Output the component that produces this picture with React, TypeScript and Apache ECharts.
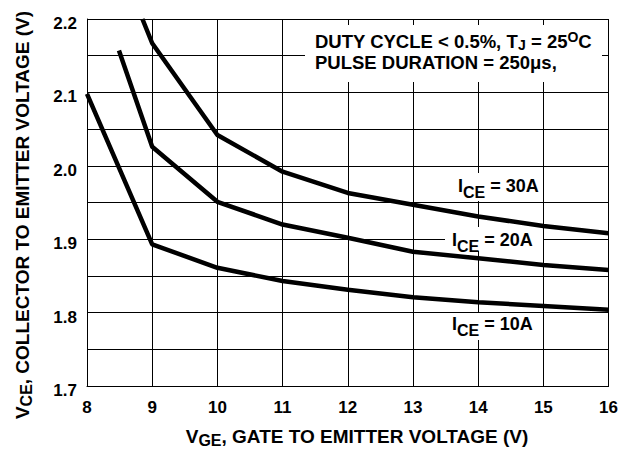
import React, { useEffect, useRef } from 'react';
import * as echarts from 'echarts';

// V_GE (x) and V_CE (y)
const vge30 = [8.85, 9, 10, 11, 12, 13, 14, 15, 16];
const vce30 = [2.2, 2.167, 2.042, 1.992, 1.963, 1.947, 1.931, 1.918, 1.908];
const vge20 = [8.49, 9, 10, 11, 12, 13, 14, 15, 16];
const vce20 = [2.157, 2.026, 1.951, 1.92, 1.902, 1.883, 1.874, 1.865, 1.858];
const vge10 = [8, 9, 10, 11, 12, 13, 14, 15, 16];
const vce10 = [2.098, 1.893, 1.861, 1.843, 1.831, 1.821, 1.814, 1.809, 1.804];

const X_MIN = 8;
const X_MAX = 16;
const X_STEP = 1;
const Y_MIN = 1.7;
const Y_MAX = 2.2;
const Y_STEP = 0.1;

const FONT = "'Liberation Sans', Arial, Helvetica, sans-serif";

const pairs = (xs: number[], ys: number[]) => xs.map((x, i) => [x, ys[i]]);

const subRich = (main: number, sub: number, shift: number) => ({
  v: { fontSize: main, fontWeight: 'bold', fontFamily: FONT, fill: '#000', lineHeight: main + 4 },
  s: { fontSize: sub, fontWeight: 'bold', fontFamily: FONT, fill: '#000', lineHeight: sub, padding: [shift * 2, 0, 0, 0] },
  u: { fontSize: sub, fontWeight: 'bold', fontFamily: FONT, fill: '#000', lineHeight: sub, padding: [0, 0, shift * 2, 0] },
});

const gridLine = { color: '#000', width: 1 };

const curve = (name: string, data: number[][]) => ({
  name,
  type: 'line',
  data,
  symbol: 'none',
  showSymbol: false,
  smooth: false,
  z: 3,
  lineStyle: { color: '#000', width: 4.5 },
});

export default function App() {
  const ref = useRef<HTMLDivElement>(null);
  useEffect(() => {
    document.body.style.margin = '0';
    const chart = echarts.init(ref.current!, null, { renderer: 'svg' });
    const option: any = {
      animation: false,
      backgroundColor: '#fff',
      grid: { left: 87, right: 11, top: 19, bottom: 63, containLabel: false, show: false },
      xAxis: {
        type: 'value',
        min: X_MIN,
        max: X_MAX,
        interval: X_STEP,
        axisLine: { show: true, lineStyle: gridLine },
        axisTick: { show: false },
        splitLine: { show: true, lineStyle: gridLine },
        axisLabel: { fontSize: 17, fontWeight: 'bold', fontFamily: FONT, color: '#000', margin: 13 },
      },
      yAxis: {
        type: 'value',
        min: Y_MIN,
        max: Y_MAX,
        interval: Y_STEP,
        axisLine: { show: true, lineStyle: gridLine },
        axisTick: { show: false },
        splitLine: { show: true, lineStyle: gridLine },
        minorTick: { show: false, splitNumber: 2 },
        minorSplitLine: { show: true, lineStyle: gridLine },
        axisLabel: {
          margin: 10,
          formatter: (v: number) => `{a|${v.toFixed(1)}}`,
          rich: {
            a: { fontSize: 17, fontWeight: 'bold', fontFamily: FONT, color: '#000', lineHeight: 17, padding: [9, 0, 0, 0] },
          },
        },
      },
      series: [
        curve('30A', pairs(vge30, vce30)),
        curve('20A', pairs(vge20, vce20)),
        curve('10A', pairs(vge10, vce10)),
      ],
      graphic: [
        { type: 'rect', z: 1, shape: { x: 305, y: 25, width: 297, height: 57 }, style: { fill: '#fff' } },
        {
          type: 'text', z: 5, x: 315, y: 41,
          style: {
            text: '{v|DUTY CYCLE < 0.5%, T}{s|J}{v| = 25}{u|O}{v|C}',
            rich: subRich(18.5, 14, 4), align: 'left', verticalAlign: 'middle', fill: '#000',
          },
        },
        {
          type: 'text', z: 5, x: 315, y: 62,
          style: {
            text: 'PULSE DURATION = 250\u03bcs,',
            fontSize: 18.5, fontWeight: 'bold', fontFamily: FONT, align: 'left', verticalAlign: 'middle', fill: '#000',
          },
        },
        { type: 'rect', z: 1, shape: { x: 447, y: 173, width: 96, height: 28 }, style: { fill: '#fff' } },
        {
          type: 'text', z: 5, x: 458, y: 186,
          style: { text: '{v|I}{s|CE}{v| = 30A}', rich: subRich(18, 16, 6), align: 'left', verticalAlign: 'middle', fill: '#000' },
        },
        { type: 'rect', z: 1, shape: { x: 445, y: 227, width: 98, height: 24 }, style: { fill: '#fff' } },
        {
          type: 'text', z: 5, x: 452, y: 240,
          style: { text: '{v|I}{s|CE}{v| = 20A}', rich: subRich(18, 16, 6), align: 'left', verticalAlign: 'middle', fill: '#000' },
        },
        { type: 'rect', z: 1, shape: { x: 445, y: 313, width: 98, height: 27 }, style: { fill: '#fff' } },
        {
          type: 'text', z: 5, x: 452, y: 324,
          style: { text: '{v|I}{s|CE}{v| = 10A}', rich: subRich(18, 16, 6), align: 'left', verticalAlign: 'middle', fill: '#000' },
        },
        {
          type: 'text', z: 5, x: 357, y: 436,
          style: {
            text: '{v|V}{s|GE}{v|, GATE TO EMITTER VOLTAGE (V)}',
            rich: subRich(19, 16, 4), align: 'center', verticalAlign: 'middle', fill: '#000',
          },
        },
        {
          type: 'text', z: 5, x: 22, y: 215, rotation: Math.PI / 2,
          style: {
            text: '{v|V}{s|CE}{v|, COLLECTOR TO EMITTER VOLTAGE (V)}',
            rich: subRich(19, 16, 4), align: 'center', verticalAlign: 'middle', fill: '#000',
          },
        },
      ],
    };
    chart.setOption(option);
    return () => chart.dispose();
  }, []);
  return <div ref={ref} style={{ width: 621, height: 449 }} />;
}
